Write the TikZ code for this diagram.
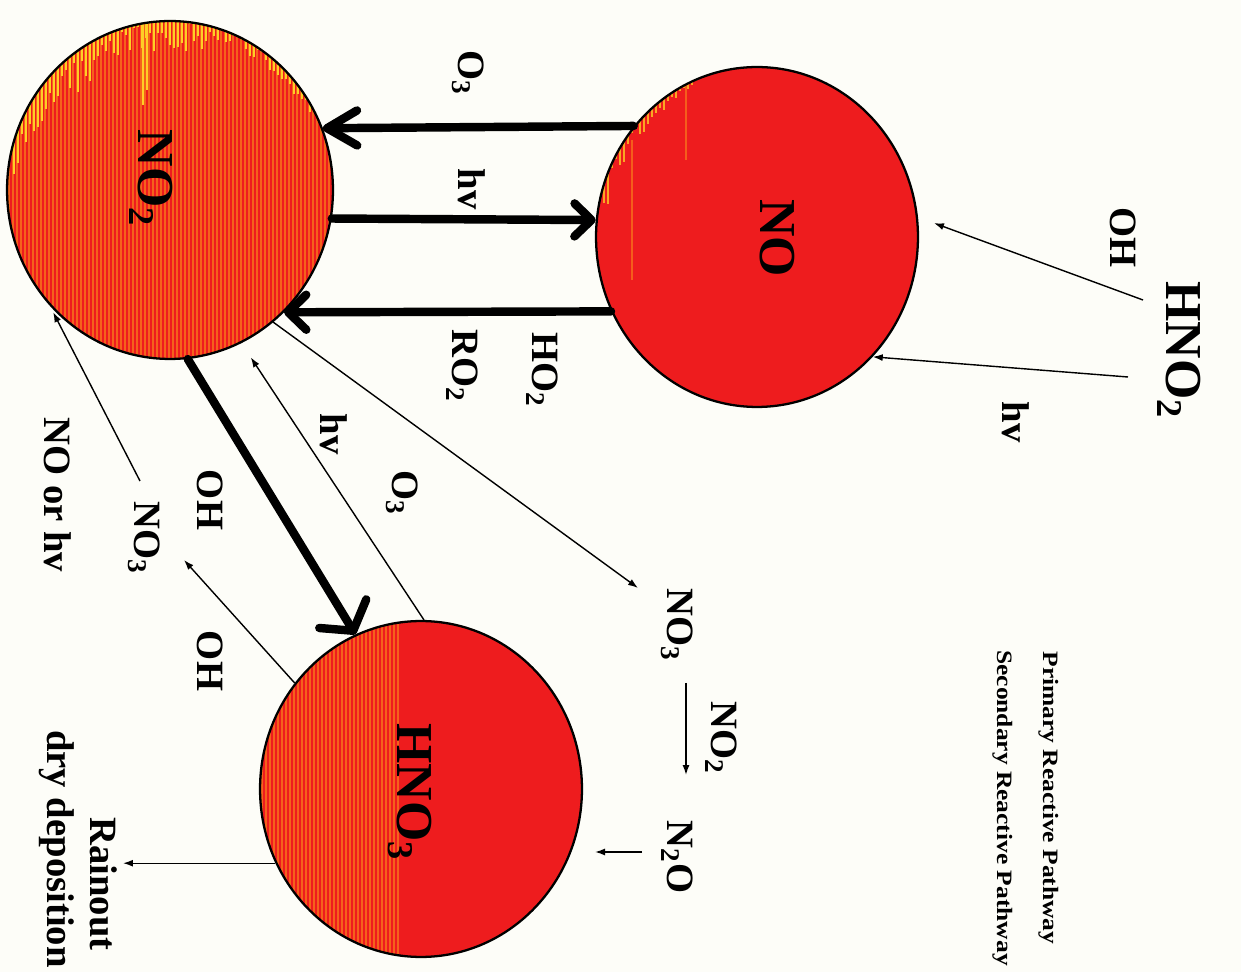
\documentclass[tikz,border=0pt]{standalone}
\usepackage{fontspec}
\setmainfont{Liberation Serif}
\usetikzlibrary{arrows.meta,shapes.geometric}

\definecolor{paper}{RGB}{253,253,248}
\definecolor{blobred}{RGB}{238,28,30}
\definecolor{streak}{RGB}{248,122,28}
\definecolor{glow}{RGB}{255,222,40}

\tikzset{
  blob/.style={ellipse, draw=black, line width=1.3pt, inner sep=0pt},
  bigtxt/.style={rotate=-90, anchor=base, font=\fontsize{29.5}{32}\selectfont\bfseries},
  midtxt/.style={rotate=-90, anchor=base, font=\fontsize{22}{24}\selectfont\bfseries},
  keytxt/.style={rotate=-90, anchor=base, font=\fontsize{12.5}{14}\selectfont\bfseries},
  primary/.style 2 args={line width=4.8pt, line cap=round,
    -{Straight Barb[round,length=#1,width=#2]}},
  secondary/.style={line width=0.8pt, -{Latex[length=0.2cm,width=0.14cm]}},
  stripe/.style={streak, line width=0.8pt, opacity=0.75},
  spark/.style={glow!85!streak, line width=0.8pt},
}

\newcommand\chsub[1]{\textsubscript{#1}}

\begin{document}
\begin{tikzpicture}[x=0.02cm,y=-0.02cm]
\useasboundingbox (0,0) rectangle (1241,972);
\fill[paper] (0,0) rectangle (1241,972);

% ---- NO2 sphere: striped all over, yellow flare along the upper rim
\begin{scope}
  \clip (170,190) ellipse (163 and 169);
  \fill[blobred] (0,10) rectangle (340,370);
  \foreach \x in {9,13,...,333} \draw[stripe] (\x,15) -- (\x,365);
  \pgfmathsetseed{11}
  \foreach \x in {14,18,...,310} {
    \pgfmathsetmacro\ytop{190-169*sqrt(max(0,1-((\x-170)/163)^2))}
    \pgfmathsetmacro\len{\x<100 ? 8+rnd*38 : (\x<215 ? 2+rnd*28 : rnd*14)}
    \draw[spark] (\x,\ytop-4) -- (\x,\ytop+\len);
  }
  \draw[spark] (143,18) -- (143,105);
  \draw[spark] (147,18) -- (147,90);
\end{scope}

% ---- NO sphere: plain red with a few flares at the upper left
\begin{scope}
  \clip (757,237) ellipse (161 and 170);
  \fill[blobred] (590,60) rectangle (925,415);
  \pgfmathsetseed{5}
  \foreach \x in {604,608,...,700} {
    \pgfmathsetmacro\ytop{237-170*sqrt(max(0,1-((\x-757)/161)^2))}
    \pgfmathsetmacro\len{(3+rnd*32)*(705-\x)/100}
    \draw[glow!70!streak, line width=0.7pt, opacity=0.85] (\x,\ytop-4) -- (\x,\ytop+\len);
  }
  \draw[streak, line width=0.6pt, opacity=0.7] (632,140) -- (632,280);
  \draw[streak, line width=0.6pt, opacity=0.7] (686,72) -- (686,160);
\end{scope}

% ---- HNO3 sphere: striped on its left half
\begin{scope}
  \clip (421,789) ellipse (161 and 168);
  \fill[blobred] (255,615) rectangle (590,962);
  \foreach \x in {262,266,...,398} \draw[stripe] (\x,615) -- (\x,962);
\end{scope}

% ---- species
\node[blob, minimum width=6.52cm, minimum height=6.76cm] (no2) at (170,190) {};
\node[blob, minimum width=6.44cm, minimum height=6.80cm] (no) at (757,237) {};
\node[blob, minimum width=6.44cm, minimum height=6.72cm] (hno3) at (421,789) {};

\node[bigtxt] (no2txt) at (138,178) {NO\chsub{2}};
\node[bigtxt] (notxt) at (760,238) {NO};
\node[bigtxt] (hno3txt) at (397,792) {HNO\chsub{3}};
\node[bigtxt] (hno2txt) at (1166,350) {HNO\chsub{2}};

% ---- reactant / condition labels
\node[midtxt] (o3top) at (458,73) {O\chsub{3}};
\node[midtxt] (hvtop) at (458,189) {hv};
\node[midtxt] (ho2) at (532,370) {HO\chsub{2}};
\node[midtxt] (ro2) at (452,366) {RO\chsub{2}};
\node[midtxt] (ohno) at (1110,238) {OH};
\node[midtxt] (hvno) at (1002,422) {hv};
\node[midtxt] (hvlow) at (320,434) {hv};
\node[midtxt] (o3low) at (392,493) {O\chsub{3}};
\node[midtxt] (ohfirst) at (197,500) {OH};
\node[midtxt] (no3left) at (134,538) {NO\chsub{3}};
\node[midtxt] (noorhv) at (44,495) {NO or hv};
\node[midtxt] (ohsecond) at (197,661) {OH};
\node[midtxt] (no3right) at (667,625) {NO\chsub{3}};
\node[midtxt] (no2right) at (711,738) {NO\chsub{2}};
\node[midtxt] (n2o) at (667,857) {N\chsub{2}O};
\node[midtxt] (rainout) at (90,884) {Rainout};
\node[midtxt] (drydep) at (48,849) {dry deposition};

% ---- key
\node[keytxt] (keyprim) at (1043,798) {\scalebox{1.16}[1]{Primary Reactive Pathway}};
\node[keytxt] (keysec) at (997,808) {\scalebox{1.16}[1]{Secondary Reactive Pathway}};

% ---- primary pathways
\draw[primary={0.6cm}{0.7cm}] (no.138.1) -- (no2.22.6);
\draw[primary={0.34cm}{0.66cm}] (no2.-10.95) -- (no.174.3);
\draw[primary={0.36cm}{0.7cm}] (no.207.8) -- (no2.-47.7);
\draw[primary={0.4cm}{1.1cm}] (no2.-84.2) -- (hno3.113.6);

% ---- secondary pathways
\coordinate (ohtail) at (1143,300);
\coordinate (hvtail) at (1128,377);
\coordinate (no3in) at (638,588);
\coordinate (ohin) at (184,560);
\coordinate (no3out) at (140,481);
\coordinate (n2ostart) at (686,683);
\coordinate (n2oend) at (686,775);
\coordinate (n2oout) at (642,852);
\coordinate (n2oin) at (595,852);
\coordinate (rainhead) at (123,866);

\draw[secondary, shorten >=0.34cm] (ohtail) -- (no.7);
\draw[secondary] (hvtail) -- (no.-46.9);
\draw[secondary] (no2.-52.7) -- (no3in);
\draw[secondary, shorten >=0.34cm] (hno3.89.3) -- (no2.-65.4);
\draw[secondary] (hno3.140.9) -- (ohin);
\draw[secondary, shorten >=0.14cm] (no3out) -- (no2.224.8);
\draw[secondary] (n2ostart) -- (n2oend);
\draw[secondary] (n2oout) -- (n2oin);
\draw[secondary] (hno3.207.6) -- (hno3.207.6 -| rainhead);
\end{tikzpicture}
\end{document}
